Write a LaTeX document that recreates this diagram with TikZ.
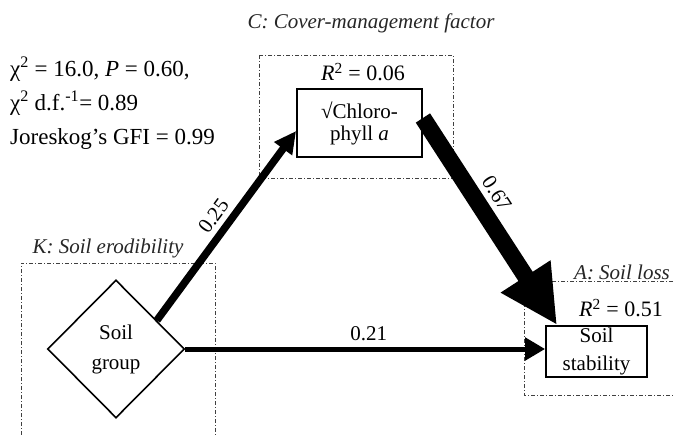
\documentclass[tikz,border=0pt]{standalone}
\usepackage{fontspec}
\setmainfont{Liberation Serif}
\usetikzlibrary{shapes.geometric,arrows.meta}

\begin{document}
\begin{tikzpicture}[
        x=1pt, y=-1pt,
        var_box/.style={rectangle, draw, line width=1.8pt, inner sep=0pt, align=center},
        var_diamond/.style={diamond, draw, line width=1.6pt, inner sep=0pt, minimum width=137pt, minimum height=138pt, align=center, font=\fontsize{21}{30}\selectfont},
        group_frame/.style={draw=black!75, line width=0.8pt, dash pattern=on 4pt off 2pt on 1pt off 2pt},
        group_label/.style={font=\fontsize{21}{24}\selectfont\itshape, text=black!85},
        r2_label/.style={font=\fontsize{22}{24}\selectfont},
        fit_line/.style={anchor=base west, inner sep=0pt, font=\fontsize{23}{28}\selectfont},
        path_label/.style={font=\fontsize{21}{24}\selectfont, sloped, above=2pt},
        path_thin/.style={line width=5pt, -{Triangle[length=20pt, width=22pt]}},
        path_mid/.style={line width=7.5pt, -{Triangle[length=22pt, width=21pt]}},
        path_thick/.style={line width=17pt, -{Triangle[length=58pt, width=55pt]}}
    ]
    \useasboundingbox (0,0) rectangle (674,435);

    % Model fit
    \node[fit_line] (fit_chi) at (10,77) {χ\textsuperscript{2} = 16.0, \textit{P} = 0.60,};
    \node[fit_line] (fit_df) at (10,111) {χ\textsuperscript{2} d.f.\textsuperscript{-1}= 0.89};
    \node[fit_line] (fit_gfi) at (10,145) {Joreskog’s GFI = 0.99};

    % C: Cover-management factor
    \draw[group_frame] (259,55) rectangle (453,178);
    \node[group_label] (c_label) at (371,23) {C: Cover-management factor};
    \node[r2_label] (c_r2) at (363,72) {\textit{R}\textsuperscript{2} = 0.06};
    \node[var_box, minimum width=125pt, minimum height=68pt, font=\fontsize{21}{22}\selectfont] (chl) at (359.5,123) {√Chloro-\\phyll \textit{a}};

    % K: Soil erodibility
    \draw[group_frame] (21,435) -- (21,263) -- (215,263) -- (215,435);
    \node[group_label] (k_label) at (108,248) {K: Soil erodibility};
    \node[var_diamond] (sg) at (116,349) {Soil\\group};

    % A: Soil loss
    \draw[group_frame] (673,281) -- (524,281) -- (524,395) -- (673,395);
    \node[group_label] (a_label) at (622,272) {A: Soil loss};
    \node[r2_label] (a_r2) at (621,308) {\textit{R}\textsuperscript{2} = 0.51};
    \node[var_box, minimum width=101pt, minimum height=51pt, font=\fontsize{21}{28}\selectfont] (stab) at (596.5,351.5) {Soil\\stability};

    % Paths
    \draw[path_mid] (sg.35) -- ([yshift=-8pt]chl.west) node[path_label, pos=0.5] {0.25};
    \draw[path_thick] ([yshift=5pt]chl.east) -- ([xshift=12pt]stab.north west) node[path_label, pos=0.42] {0.67};
    \draw[path_thin] (sg.east) -- (sg.east -| stab.west) node[path_label, pos=0.51] {0.21};
\end{tikzpicture}
\end{document}
